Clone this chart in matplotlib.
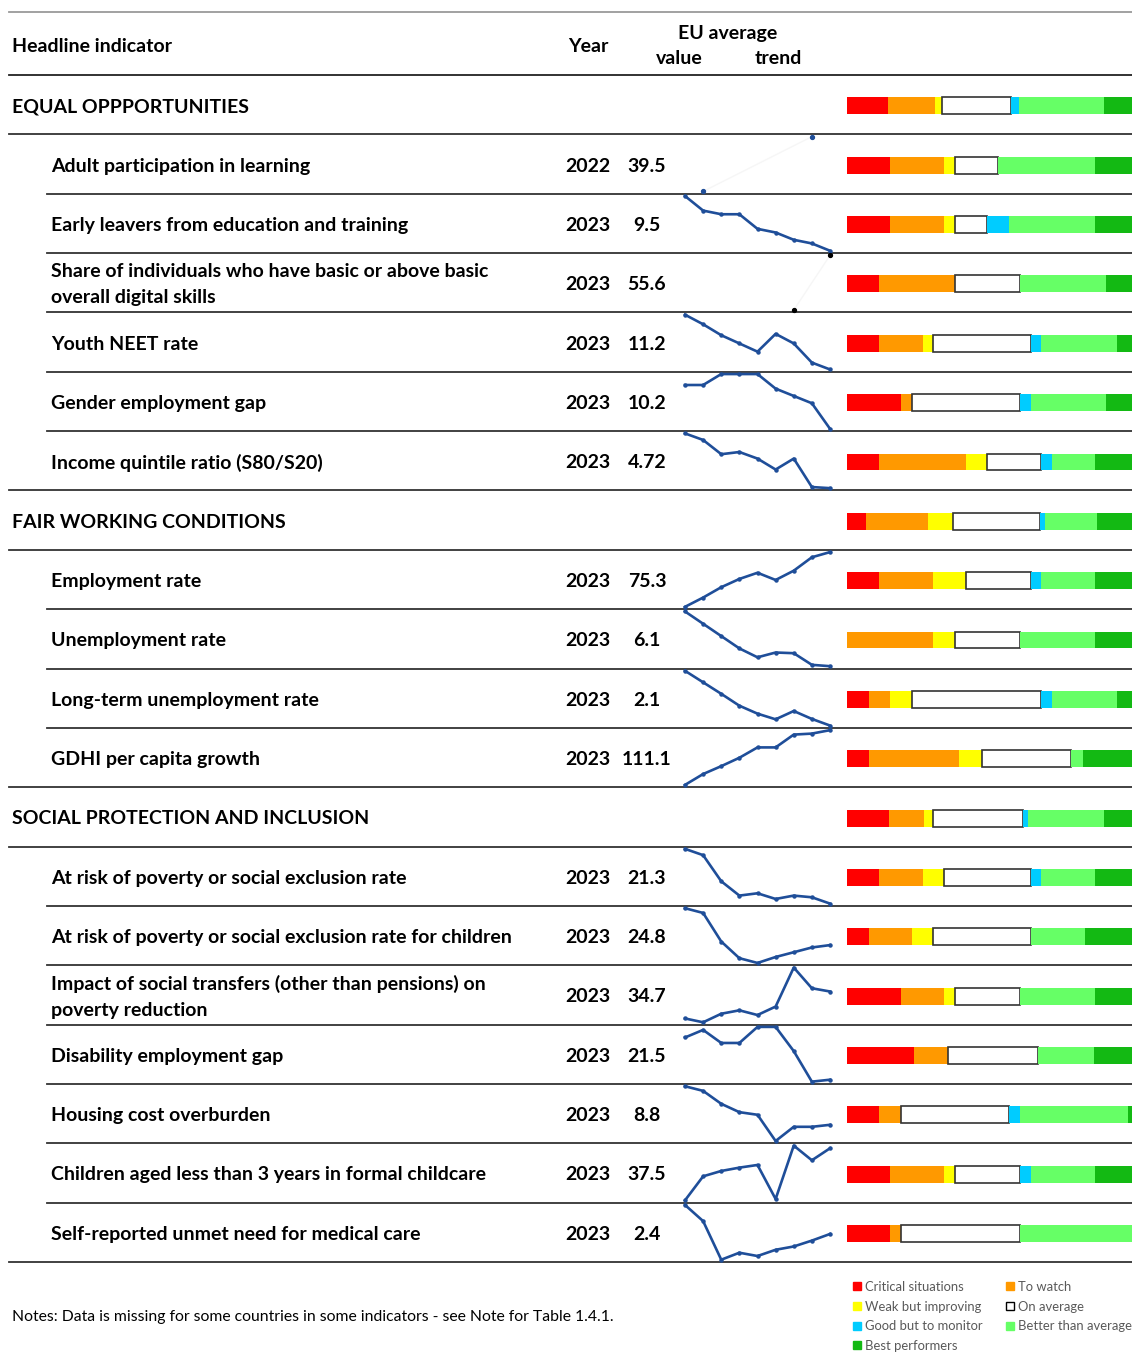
import numpy as np
import matplotlib.pyplot as plt
from matplotlib.lines import Line2D

plt.rcParams['font.family'] = ['Lato', 'DejaVu Sans']

# --- data ---
sections = ["EQUAL OPPPORTUNITIES", "FAIR WORKING CONDITIONS",
            "SOCIAL PROTECTION AND INCLUSION"]
section_sizes = [6, 4, 7]

indicators = [
    "Adult participation in learning",
    "Early leavers from education and training",
    "Share of individuals who have basic or above basic\noverall digital skills",
    "Youth NEET rate",
    "Gender employment gap",
    "Income quintile ratio (S80/S20)",
    "Employment rate",
    "Unemployment rate",
    "Long-term unemployment rate",
    "GDHI per capita growth",
    "At risk of poverty or social exclusion rate",
    "At risk of poverty or social exclusion rate for children",
    "Impact of social transfers (other than pensions) on\npoverty reduction",
    "Disability employment gap",
    "Housing cost overburden",
    "Children aged less than 3 years in formal childcare",
    "Self-reported unmet need for medical care",
]
years = ["2022"] + ["2023"] * 16
values = ["39.5", "9.5", "55.6", "11.2", "10.2", "4.72", "75.3", "6.1", "2.1",
          "111.1", "21.3", "24.8", "34.7", "21.5", "8.8", "37.5", "2.4"]

nan = np.nan
trend_years = list(range(2015, 2024))
trends = [
    [nan, 37.4, nan, nan, nan, nan, nan, 39.5, nan],
    [11.0, 10.6, 10.5, 10.5, 10.1, 10.0, 9.8, 9.7, 9.5],
    [nan, nan, nan, nan, nan, nan, 53.9, nan, 55.6],
    [15.2, 14.5, 13.7, 13.1, 12.5, 13.8, 13.1, 11.7, 11.2],
    [11.4, 11.4, 11.7, 11.7, 11.7, 11.3, 11.1, 10.9, 10.2],
    [5.22, 5.16, 5.03, 5.05, 4.99, 4.89, 4.99, 4.73, 4.72],
    [70.0, 70.9, 71.9, 72.7, 73.3, 72.6, 73.5, 74.8, 75.3],
    [10.1, 9.2, 8.3, 7.4, 6.75, 7.1, 7.05, 6.2, 6.1],
    [5.0, 4.39, 3.78, 3.15, 2.73, 2.43, 2.87, 2.45, 2.1],
    [100.0, 102.2, 103.8, 105.5, 107.6, 107.6, 110.2, 110.4, 111.1],
    [23.9, 23.6, 22.36, 21.68, 21.79, 21.52, 21.68, 21.6, 21.3],
    [27.9, 27.5, 25.1, 23.7, 23.3, 23.8, 24.2, 24.6, 24.8],
    [31.55, 31.1, 32.1, 32.5, 31.95, 32.94, 37.5, 35.08, 34.7],
    [23.9, 24.33, 23.59, 23.59, 24.5, 24.5, 23.13, 21.4, 21.51],
    [11.3, 11.0, 10.16, 9.62, 9.45, 7.75, 8.67, 8.67, 8.8],
    [29.7, 33.3, 34.1, 34.6, 35.0, 29.9, 37.9, 35.7, 37.5],
    [3.19, 2.75, 1.70, 1.89, 1.80, 1.97, 2.06, 2.22, 2.4],
]
trend_colors = ["#1F4E99", "#1F4E99", "black"] + ["#1F4E99"] * 14

categories = ["Critical situations", "To watch", "Weak but improving",
              "On average", "Good but to monitor", "Better than average",
              "Best performers"]
cat_colors = ["#FF0000", "#FF9900", "#FFFF00", "white", "#00CCFF",
              "#66FF66", "#13B913"]

# number of countries in each category (sections: averages)
section_counts = [
    [3.8, 4.35, 0.62, 6.39, 0.77, 7.84, 3.23],
    [1.76, 5.74, 2.31, 8.02, 0.49, 4.81, 3.87],
    [3.86, 3.27, 0.86, 8.3, 0.46, 7.0, 3.25],
]
indicator_counts = [
    [4, 5, 1, 4, 0, 9, 4],
    [4, 5, 1, 3, 2, 8, 4],
    [3, 7, 0, 6, 0, 8, 3],
    [3, 4, 1, 9, 1, 7, 2],
    [5, 1, 0, 10, 1, 7, 3],
    [3, 8, 2, 5, 1, 4, 4],
    [3, 5, 3, 6, 1, 5, 4],
    [0, 8, 2, 6, 0, 7, 4],
    [2, 2, 2, 12, 1, 6, 2],
    [2, 8, 2, 8, 0, 1, 5],
    [3, 4, 2, 8, 1, 5, 4],
    [2, 4, 2, 9, 0, 5, 5],
    [5, 4, 1, 6, 0, 7, 4],
    [6, 3, 0, 8, 0, 5, 4],
    [3, 2, 0, 10, 1, 10, 1],
    [4, 5, 1, 6, 1, 6, 4],
    [4, 1, 0, 11, 0, 11, 0],
]

# --- layout (pixels) ---
W, H = 1132, 1358
fig = plt.figure(figsize=(W / 100, H / 100), dpi=100)
ax = fig.add_axes([0, 0, 1, 1])
ax.set_xlim(0, W)
ax.set_ylim(H, 0)
ax.axis('off')

top_y = 75
row_h = (1262 - top_y) / 20
name_fs = 14
dy = 2  # text baseline nudge

def fig_rect(x0, y0, x1, y1):
    return [x0 / W, 1 - y1 / H, (x1 - x0) / W, (y1 - y0) / H]

# header
ax.plot([9, W], [12, 12], color='#9a9a9a', lw=1.3)
ax.plot([9, W], [top_y, top_y], color='#222222', lw=1.3)
ax.text(12, 44 + dy, "Headline indicator", fontsize=name_fs, weight='bold', va='center')
ax.text(588, 44 + dy, "Year", fontsize=name_fs, weight='bold', va='center', ha='center')
ax.text(728, 31 + dy, "EU average", fontsize=name_fs, weight='bold', va='center', ha='center')
ax.text(679, 57 + dy, "value", fontsize=name_fs, weight='bold', va='center', ha='center')
ax.text(778, 57 + dy, "trend", fontsize=name_fs, weight='bold', va='center', ha='center')

# rows
kinds = []
ind = 0
for s, n in zip(range(len(sections)), section_sizes):
    kinds.append(('s', s))
    for _ in range(n):
        kinds.append(('i', ind))
        ind += 1

bar_ax = fig.add_axes(fig_rect(847, top_y, W, 1262))
bar_ax.set_ylim(len(kinds), 0)
full_px = 291.6
bar_ax.set_xlim(0, (W - 847) / full_px)
bar_ax.axis('off')

for r, (kind, k) in enumerate(kinds):
    y0 = top_y + r * row_h
    y1 = y0 + row_h
    yc = (y0 + y1) / 2
    nxt = kinds[r + 1][0] if r + 1 < len(kinds) else 's'
    x_start = 9 if (kind == 's' or nxt == 's') else 47
    ax.plot([x_start, W], [y1, y1], color='#333333', lw=1.3)

    if kind == 's':
        ax.text(12, yc + dy, sections[k], fontsize=name_fs, weight='bold', va='center')
        counts = np.array(section_counts[k], dtype=float)
    else:
        ax.text(51, yc + dy, indicators[k], fontsize=name_fs, weight='bold',
                va='center', linespacing=1.62)
        ax.text(588, yc + dy, years[k], fontsize=name_fs, weight='bold',
                va='center', ha='center')
        ax.text(647, yc + dy, values[k], fontsize=name_fs, weight='bold',
                va='center', ha='center')
        counts = np.array(indicator_counts[k], dtype=float)

        # sparkline
        t = np.array(trends[k], dtype=float)
        sp = fig.add_axes(fig_rect(685, y0 + 2.3, 830, y1 - 2.3))
        sp.set_xlim(0, len(t) - 1)
        sp.set_ylim(np.nanmin(t), np.nanmax(t))
        sp.axis('off')
        xs = np.arange(len(t))
        ok = ~np.isnan(t)
        if ok.sum() < 3:
            sp.plot(xs[ok], t[ok], color='#f6f6f6', lw=1, clip_on=False)
            sp.plot(xs[ok], t[ok], 'o', color=trend_colors[k], ms=2.8,
                    clip_on=False)
        else:
            sp.plot(xs, t, color=trend_colors[k], lw=1.9, marker='o', ms=2.2,
                    clip_on=False)

    shares = counts / counts.sum()
    left = 0
    for c, w in enumerate(shares):
        if w > 0:
            if cat_colors[c] == 'white':
                bar_ax.barh(r + 0.52, w, left=left, height=0.285, color='white',
                            edgecolor='#333333', lw=1.2)
            else:
                bar_ax.barh(r + 0.52, w, left=left, height=0.285,
                            color=cat_colors[c], lw=0)
        left += w

ax.text(12, 1317, "Notes: Data is missing for some countries in some indicators"
        " - see Note for Table 1.4.1.", fontsize=11.3, va='center')

handles = []
for c in [0, 2, 4, 6, 1, 3, 5]:
    handles.append(Line2D([], [], ls='none', marker='s', ms=6.3,
                          markerfacecolor=cat_colors[c],
                          markeredgecolor='black' if c == 3 else cat_colors[c],
                          label=categories[c]))
fig.legend(handles=handles, ncol=2, loc='upper left',
           bbox_to_anchor=(853 / W, 1 - 1281 / H), frameon=False,
           fontsize=9.4, labelcolor='#595959', handlelength=0.6,
           handletextpad=0.35, columnspacing=1.75, labelspacing=0.58,
           borderaxespad=0, borderpad=0)

fig.savefig("out.png", dpi=100)
